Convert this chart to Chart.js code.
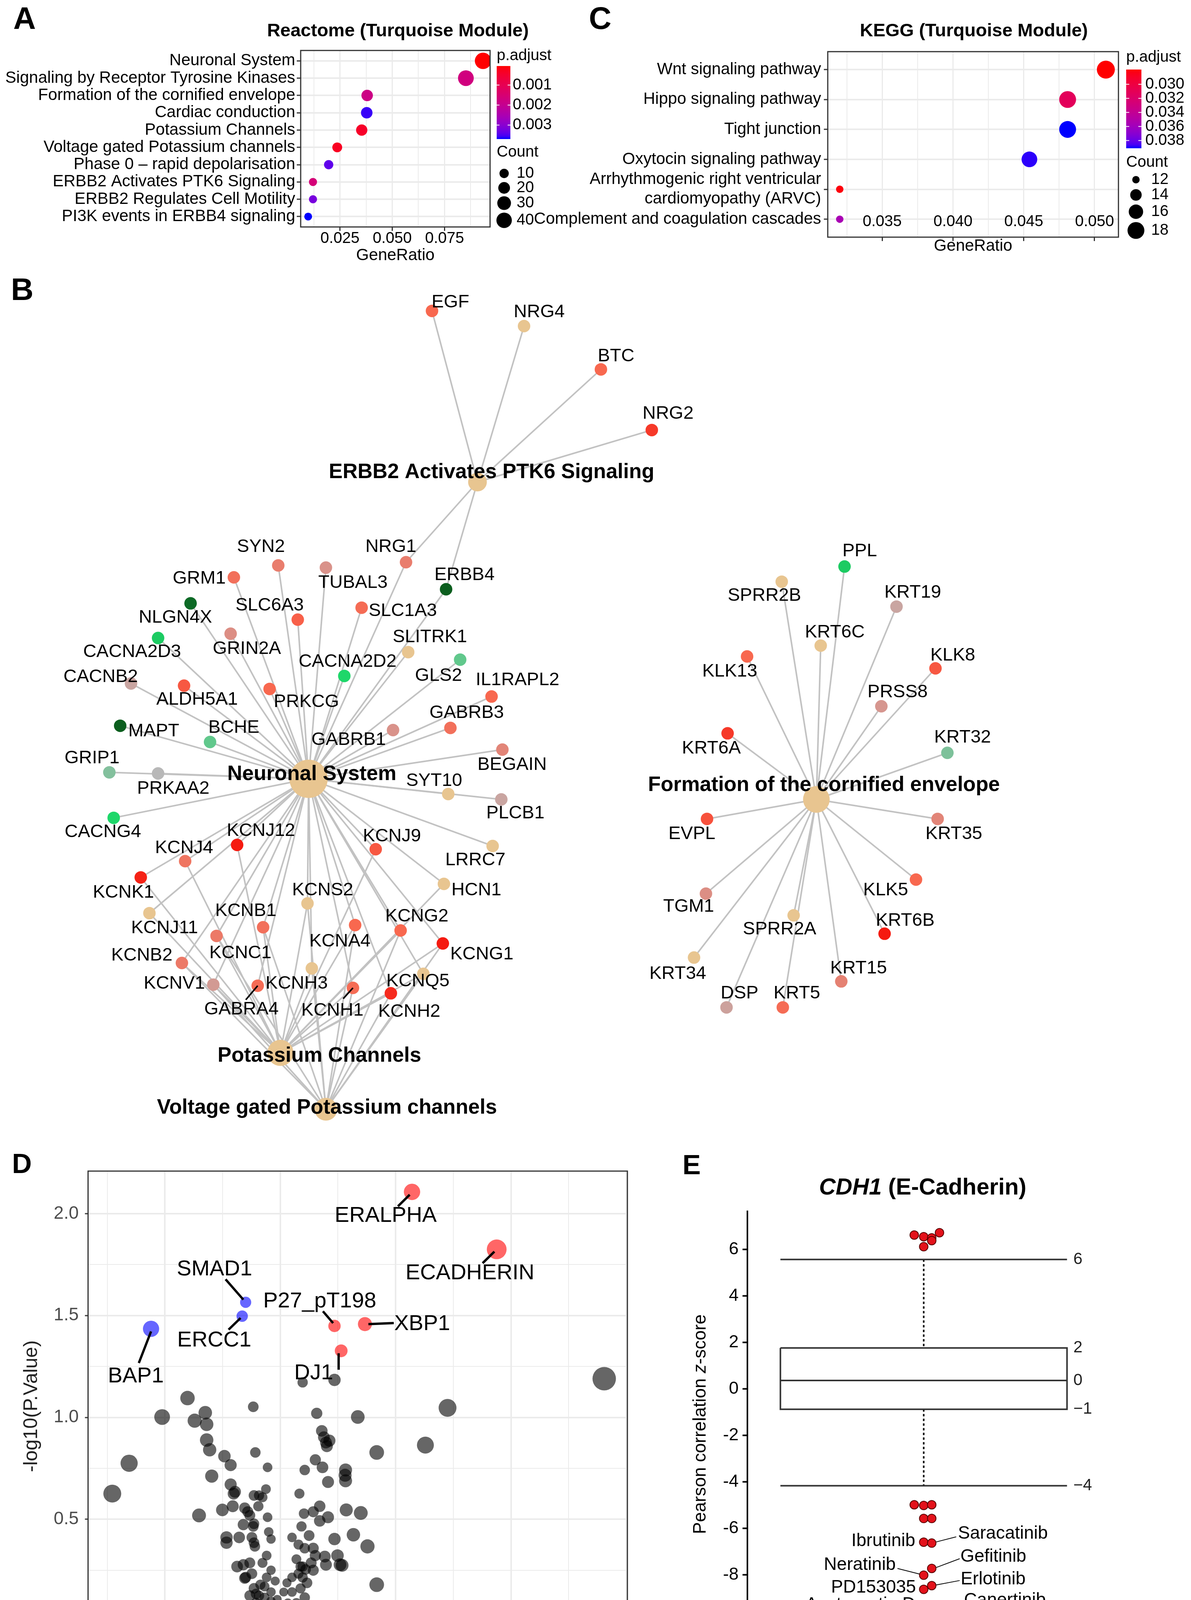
<!DOCTYPE html>
<html lang="en">
<head>
<meta charset="UTF-8">
<title>Turquoise module enrichment and CDH1 screens</title>
<script src="https://cdn.jsdelivr.net/npm/chart.js"></script>
<style>
  html, body { margin: 0; padding: 0; background: #fff; }
  #page { position: relative; width: 3050px; height: 4363px; overflow: hidden; background: #fff;
          font-family: "Liberation Sans", Arial, Helvetica, sans-serif; color: #000; }
  #page canvas { position: absolute; }
  .tag { position: absolute; transform: translate(-50%, -50%); line-height: 1; white-space: nowrap; font-weight: bold; }
</style>
</head>
<body>
<div id="page">
  <canvas id="cA" width="1500" height="600" style="left:0;top:100px"></canvas>
  <canvas id="cC" width="1750" height="600" style="left:1300px;top:100px"></canvas>
  <canvas id="cB" width="3050" height="2220" style="left:0;top:680px"></canvas>
  <canvas id="cD" width="1700" height="1463" style="left:0;top:2900px"></canvas>
  <canvas id="cE" width="1350" height="1463" style="left:1700px;top:2900px"></canvas>

  <div class="tag" style="left:63px;top:47px;font-size:80px">A</div>
  <div class="tag" style="left:1019px;top:76px;font-size:47px">Reactome (Turquoise Module)</div>
  <div class="tag" style="left:1537px;top:47px;font-size:80px">C</div>
  <div class="tag" style="left:2494px;top:76px;font-size:47px">KEGG (Turquoise Module)</div>
  <div class="tag" style="left:57px;top:741px;font-size:80px">B</div>
  <div class="tag" style="left:56px;top:2979px;font-size:70px">D</div>
  <div class="tag" style="left:1771px;top:2982px;font-size:70px">E</div>
  <div class="tag" style="left:2363px;top:3038px;font-size:59px"><i>CDH1</i> (E-Cadherin)</div>
</div>

<script>
const FONT = '"Liberation Sans", Arial, Helvetica, sans-serif';
Chart.defaults.font.family = FONT;
Chart.defaults.color = '#000';
Chart.defaults.layout.autoPadding = false;

// ---------------- A: Reactome dotplot ----------------
const reactTerms = ['Neuronal System', 'Signaling by Receptor Tyrosine Kinases', 'Formation of the cornified envelope',
  'Cardiac conduction', 'Potassium Channels', 'Voltage gated Potassium channels', 'Phase 0 – rapid depolarisation',
  'ERBB2 Activates PTK6 Signaling', 'ERBB2 Regulates Cell Motility', 'PI3K events in ERBB4 signaling'];
const reactRatio = [0.0934, 0.0852, 0.0380, 0.0378, 0.0354, 0.0237, 0.0196, 0.0121, 0.0121, 0.0098];
const reactCount = [46, 42, 19, 19, 18, 12, 10, 6, 6, 5];
const reactPadj = [0.00005, 0.0017, 0.0018, 0.0036, 0.0004, 0.0003, 0.0034, 0.0016, 0.0032, 0.0037];
const reactRatioTicks = [0.025, 0.050, 0.075];
const reactPadjBreaks = [0.001, 0.002, 0.003];
const reactCountBreaks = [10, 20, 30, 40];

// ---------------- C: KEGG dotplot ----------------
const keggTerms = ['Wnt signaling pathway', 'Hippo signaling pathway', 'Tight junction', 'Oxytocin signaling pathway',
  ['Arrhythmogenic right ventricular', 'cardiomyopathy (ARVC)'], 'Complement and coagulation cascades'];
const keggRatio = [0.0508, 0.0481, 0.0481, 0.0454, 0.0320, 0.0320];
const keggCount = [19, 18, 18, 17, 12, 12];
const keggPadj = [0.0279, 0.0312, 0.0391, 0.0389, 0.0281, 0.0356];
const keggRatioTicks = [0.035, 0.040, 0.045, 0.050];
const keggPadjBreaks = [0.030, 0.032, 0.034, 0.036, 0.038];
const keggCountBreaks = [12, 14, 16, 18];

// ---------------- B: gene-concept network (layout coordinates) ----------------
const netHubs = ['ERBB2 Activates PTK6 Signaling', 'Neuronal System', 'Potassium Channels',
  'Voltage gated Potassium channels', 'Formation of the cornified envelope'];
const netHubCount = [6, 46, 18, 12, 19];
const netHubX = [441, 285, 259, 301, 754];
const netHubY = [445, 719, 972, 1024, 738];

const netGenes = ['EGF','NRG4','BTC','NRG2','NRG1','ERBB4',
  'SYN2','GRM1','TUBAL3','NLGN4X','SLC6A3','SLC1A3','GRIN2A','CACNA2D3','SLITRK1','GLS2','CACNA2D2','CACNB2','IL1RAPL2',
  'ALDH5A1','PRKCG','GABRB3','GABRB1','MAPT','BCHE','BEGAIN','GRIP1','PRKAA2','SYT10','PLCB1','CACNG4','LRRC7','GABRA4',
  'KCNJ12','KCNJ9','KCNJ4','KCNK1','HCN1','KCNJ11',
  'KCNS2','KCNB1','KCNA4','KCNG2','KCNC1','KCNG1','KCNB2','KCNH3','KCNV1','KCNH1','KCNQ5','KCNH2',
  'PPL','SPRR2B','KRT19','KRT6C','KLK13','KLK8','PRSS8','KRT6A','KRT32','EVPL','KRT35','KLK5','TGM1','SPRR2A','KRT6B',
  'KRT34','KRT15','DSP','KRT5'];
const netGeneX = [399,484,555,602,375,412,
  257,216,301,176,275,334,213,146,377,425,318,121,454,170,249,416,363,111,194,464,101,146,414,463,105,455,238,
  219,347,171,130,410,138,
  284,243,328,370,200,409,168,288,197,326,391,361,
  780,722,828,758,690,864,814,672,875,653,866,846,652,733,817,641,777,671,723];
const netGeneY = [287,301,341,397,519,544,
  522,533,524,557,572,561,585,589,602,609,624,631,643,633,636,672,674,670,685,692,713,714,733,738,755,781,910,
  780,784,795,810,816,843,
  834,856,854,859,864,871,889,894,909,912,899,917,
  523,537,560,596,606,617,652,677,695,756,756,812,825,845,862,884,906,930,930];
// fold change shown by node colour (null = not measured)
const netGeneFC = [2.0,null,2.0,2.6,1.5,-3,
  1.5,1.8,1.0,-2.9,2.1,1.9,1.1,-2.1,null,-1.3,-2.0,0.5,2.0,2.2,2.0,1.8,1.0,-3,-1.3,1.3,-0.9,0,null,0.5,-2.0,null,1.9,
  3,2.2,1.7,2.9,null,null,
  null,1.8,2.0,2.0,1.6,3,1.6,null,0.8,1.9,null,2.8,
  -2.1,null,0.5,null,2.0,2.2,0.9,2.6,-1.0,2.3,1.3,2.0,1.1,null,3,null,1.4,0.6,1.9];
// pathway membership of each gene (indices into netHubs)
const netGeneHubs = [].concat(Array(4).fill([0]), Array(2).fill([0, 1]), Array(27).fill([1]),
  Array(6).fill([1, 2]), Array(12).fill([1, 2, 3]), Array(19).fill([4]));

// ---------------- D: volcano ----------------
const volHitNames = ['ERALPHA', 'ECADHERIN', 'SMAD1', 'ERCC1', 'BAP1', 'P27_pT198', 'XBP1', 'DJ1'];
const volHitLFC = [0.571, 0.938, -0.150, -0.165, -0.560, 0.235, 0.367, 0.264];
const volHitLogP = [2.107, 1.825, 1.565, 1.497, 1.435, 1.449, 1.458, 1.327];
const volLFC = [1.404,0.725,0.629,0.418,0.418,0.378,0.349,0.336,0.317,0.286,0.283,0.281,0.283,0.259,0.248,0.235,0.207,
  0.235,0.207,0.198,0.213,0.189,0.180,0.202,0.183,0.158,0.152,0.143,0.171,0.152,0.106,0.097,0.083,0.092,0.125,0.106,
  0.143,0.051,0.070,0.097,0.079,0.116,0.088,0.106,0.051,0.033,0.024,0.006,0.015,0.051,0.070,-0.022,0.000,-0.031,
  -0.040,-0.022,-0.040,-0.013,-0.068,-0.086,-0.059,-0.077,-0.059,-0.105,-0.114,-0.123,-0.132,-0.150,-0.114,-0.123,
  -0.110,-0.040,-0.050,-0.055,-0.062,-0.095,-0.077,-0.114,-0.092,-0.114,-0.132,-0.141,-0.117,-0.160,-0.154,-0.206,
  -0.251,-0.352,-0.202,-0.215,-0.196,-0.215,-0.242,-0.297,-0.306,-0.319,-0.319,-0.325,-0.371,-0.402,-0.512,-0.655,
  -0.728,-0.117,-0.108,-0.055,-0.233,-0.233,-0.178,-0.154,-0.132,-0.092,-0.160,-0.187,-0.068,-0.050,-0.105,-0.086,
  -0.040,-0.004,-0.013,0.033,0.042,0.015,0.029,0.088,0.134,0.143,0.097,0.193,0.198,0.268,0.171,0.103,0.079,0.110,
  -0.068,-0.117,-0.086,-0.031,0.011];
const volLogP = [1.190,1.047,0.864,0.828,0.179,0.367,0.531,1.002,0.424,0.546,0.742,0.716,0.689,0.277,0.322,0.403,0.510,
  1.184,0.683,0.877,0.886,0.903,0.934,0.859,0.755,1.020,0.792,0.537,0.492,0.322,0.742,1.172,0.626,0.465,0.420,0.358,
  0.358,0.411,0.304,0.268,0.233,0.188,0.161,0.116,0.143,0.089,0.054,0.018,0.072,0.215,0.089,0.036,0.004,0.072,
  0.143,0.197,0.250,0.107,0.116,0.179,0.215,0.286,0.322,0.089,0.161,0.233,0.286,0.215,0.385,0.411,
  0.367,0.403,0.438,0.510,0.648,0.564,0.608,0.617,0.617,0.478,0.519,0.537,0.465,0.474,0.555,0.564,
  0.546,0.519,0.626,0.671,0.635,0.766,0.810,0.712,0.841,0.889,0.966,1.023,0.984,1.095,1.002,0.775,
  0.626,1.052,0.828,0.755,0.411,0.385,0.411,0.211,0.125,0.125,0.277,0.268,0.054,0.036,0.134,0.072,
  0.098,0.027,0.072,0.036,0.072,0.143,0.188,0.268,0.286,0.250,0.215,0.317,0.277,0.274,0.564,0.528,0.376,0.254,
  0.170,0.036,0.018,0.000,0.054];
const volXTicks = [-0.5, 0.0, 0.5, 1.0, 1.5];
const volYTicks = [0.0, 0.5, 1.0, 1.5, 2.0];

// ---------------- E: CDH1 drug correlation ----------------
const cdh1Box = [-4.17, -0.88, 0.36, 1.76, 5.57]; // lower whisker, Q1, median, Q3, upper whisker
const cdh1TopZ = [6.62, 6.55, 6.50, 6.72, 6.12, 6.38];
const cdh1LowZ = [-4.99, -5.02, -4.99, -5.58, -5.58];
const drugNames = ['Ibrutinib', 'Saracatinib', 'Gefitinib', 'Neratinib', 'Erlotinib', 'PD153035',
  'Austocystin D', 'Canertinib', 'Lapatinib', 'Afatinib'];
const drugZ = [-6.60, -6.64, -7.73, -8.02, -8.47, -8.63, -9.33, -9.33, -9.88, -10.51];
const zTicks = [-10, -8, -6, -4, -2, 0, 2, 4, 6];

// ================= layout / styling =================
const netLabelAt = {
  EGF:[416,279], NRG4:[498,288], BTC:[569,329], NRG2:[617,382], NRG1:[361,505], ERBB4:[429,531],
  SYN2:[241,505], GRM1:[184,534], TUBAL3:[326,538], NLGN4X:[162,570], SLC6A3:[249,559], SLC1A3:[372,564],
  GRIN2A:[228,599], CACNA2D3:[122,602], SLITRK1:[397,588], GLS2:[405,624], CACNA2D2:[321,611], CACNB2:[93,625],
  IL1RAPL2:[478,628], ALDH5A1:[182,646], PRKCG:[283,648], GABRB3:[431,658], GABRB1:[322,683], MAPT:[142,675],
  BCHE:[216,672], BEGAIN:[473,706], GRIP1:[85,700], PRKAA2:[160,728], SYT10:[401,721], PLCB1:[476,751],
  CACNG4:[95,768], LRRC7:[439,794], GABRA4:[223,932],
  KCNJ12:[241,767], KCNJ9:[362,772], KCNJ4:[170,783], KCNK1:[114,824], HCN1:[440,822], KCNJ11:[152,857],
  KCNS2:[298,822], KCNB1:[227,841], KCNA4:[314,869], KCNG2:[385,846], KCNC1:[222,880], KCNG1:[445,881],
  KCNB2:[131,882], KCNH3:[274,908], KCNV1:[161,908], KCNH1:[307,933], KCNQ5:[386,906], KCNH2:[378,934],
  PPL:[794,509], SPRR2B:[706,550], KRT19:[843,547], KRT6C:[771,584], KLK13:[674,620], KLK8:[880,605],
  PRSS8:[829,639], KRT6A:[657,691], KRT32:[889,681], EVPL:[639,770], KRT35:[881,770], KLK5:[818,822],
  TGM1:[636,837], SPRR2A:[720,858], KRT6B:[836,850], KRT34:[626,899], KRT15:[793,894], DSP:[683,917], KRT5:[736,917]
};
const netLeaderTo = { GABRA4: [227, 923], KCNH1: [317, 922] };
const netHubLabelAt = [[454, 436], [288, 715], [295, 975], [302, 1023], [761, 725]];

const volLabelAt = { ERALPHA:[0.457,1.989], ECADHERIN:[0.822,1.708], SMAD1:[-0.285,1.726], ERCC1:[-0.286,1.377],
  BAP1:[-0.626,1.202], P27_pT198:[0.171,1.569], XBP1:[0.615,1.458], DJ1:[0.145,1.216] };
const volLeader = { ERALPHA:[[0.510,2.036],[0.561,2.093]], ECADHERIN:[[0.877,1.757],[0.928,1.814]],
  SMAD1:[[-0.237,1.678],[-0.160,1.578]], ERCC1:[[-0.224,1.431],[-0.172,1.488]], BAP1:[[-0.613,1.267],[-0.560,1.422]],
  P27_pT198:[[0.185,1.521],[0.229,1.463]], XBP1:[[0.382,1.458],[0.492,1.463]], DJ1:[[0.253,1.234],[0.253,1.315]] };

const swarmTop = [-0.066, 0, 0.056, 0.11, 0, 0.056];
const swarmLow = [-0.066, 0, 0.056, 0, 0.056];
const swarmDrug = [0, 0.056, 0.056, 0, 0.056, 0, 0, 0.056, 0, 0];
const drugLabelAt = { Ibrutinib:[-0.059,-6.56,'right'], Saracatinib:[0.239,-6.24,'left'], Gefitinib:[0.256,-7.23,'left'],
  Neratinib:[-0.195,-7.58,'right'], Erlotinib:[0.258,-8.2,'left'], PD153035:[-0.054,-8.56,'right'],
  'Austocystin D':[-0.059,-9.3,'right'], Canertinib:[0.281,-9.11,'left'], Lapatinib:[0.227,-10.2,'left'],
  Afatinib:[-0.054,-10.48,'right'] };
const drugLeader = { Saracatinib:[[0.087,-6.59],[0.227,-6.37]], Neratinib:[[-0.183,-7.73],[-0.03,-7.97]],
  Gefitinib:[[0.087,-7.69],[0.251,-7.31]], Erlotinib:[[0.087,-8.44],[0.251,-8.25]],
  Canertinib:[[0.087,-9.3],[0.274,-9.18]], Lapatinib:[[0.028,-9.98],[0.2,-10.2]] };

// ---- colour helpers ----
function toLin(c) { c /= 255; return c <= 0.04045 ? c / 12.92 : Math.pow((c + 0.055) / 1.055, 2.4); }
function toSrgb(c) { c = c <= 0.0031308 ? 12.92 * c : 1.055 * Math.pow(c, 1 / 2.4) - 0.055; return Math.round(Math.max(0, Math.min(1, c)) * 255); }
function rgb2lab(rgb) {
  const r = toLin(rgb[0]), g = toLin(rgb[1]), b = toLin(rgb[2]);
  const X = (0.4124 * r + 0.3576 * g + 0.1805 * b) / 0.95047, Y = 0.2126 * r + 0.7152 * g + 0.0722 * b,
        Z = (0.0193 * r + 0.1192 * g + 0.9505 * b) / 1.08883;
  const f = t => t > 0.008856 ? Math.cbrt(t) : 7.787 * t + 16 / 116;
  return [116 * f(Y) - 16, 500 * (f(X) - f(Y)), 200 * (f(Y) - f(Z))];
}
function lab2css(L) {
  const fy = (L[0] + 16) / 116, fx = fy + L[1] / 500, fz = fy - L[2] / 200;
  const inv = t => t * t * t > 0.008856 ? t * t * t : (t - 16 / 116) / 7.787;
  const X = inv(fx) * 0.95047, Y = inv(fy), Z = inv(fz) * 1.08883;
  const r = 3.2406 * X - 1.5372 * Y - 0.4986 * Z, g = -0.9689 * X + 1.8758 * Y + 0.0415 * Z, b = 0.0557 * X - 0.2040 * Y + 1.0570 * Z;
  return 'rgb(' + toSrgb(r) + ',' + toSrgb(g) + ',' + toSrgb(b) + ')';
}
const LAB_RED = rgb2lab([255, 0, 0]), LAB_BLUE = rgb2lab([0, 0, 255]);
function redBlue(t) { t = Math.max(0, Math.min(1, t)); return lab2css(LAB_RED.map((v, i) => v + t * (LAB_BLUE[i] - v))); }

const TAN = '#E8C590';
const fcStops = [[-3, [11, 94, 30]], [-2, [30, 215, 106]], [-1, [125, 193, 154]], [0, [184, 184, 184]],
                 [1, [217, 146, 138]], [2, [248, 104, 79]], [3, [245, 26, 16]]];
function fcColor(v) {
  if (v === null) return TAN;
  v = Math.max(-3, Math.min(3, v));
  for (let i = 0; i < fcStops.length - 1; i++) {
    const a = fcStops[i], b = fcStops[i + 1];
    if (v <= b[0]) {
      const t = (v - a[0]) / (b[0] - a[0]);
      return 'rgb(' + a[1].map((c, k) => Math.round(c + t * (b[1][k] - c))).join(',') + ')';
    }
  }
}

function gridValues(major, lo, hi) {
  const h = (major[1] - major[0]) / 2, out = [];
  let v = major[0];
  while (v - h >= lo - 1e-12) v -= h;
  for (; v <= hi + 1e-12; v += h) out.push(+v.toFixed(10));
  return out;
}
const isIn = (v, arr) => arr.some(m => Math.abs(m - v) < 1e-9);

const base = { responsive: false, devicePixelRatio: 1, animation: false, events: [] };

// ================= A & C dotplots =================
function makeDotplot(id, origin, terms, ratio, count, padj, majors, pBreaks, cBreaks, L) {
  const n = terms.length;
  const pLo = Math.min(...padj), pHi = Math.max(...padj);
  const cLo = Math.min(...count), cHi = Math.max(...count);
  const rad = c => Math.sqrt(L.rMin * L.rMin + (c - cLo) / (cHi - cLo) * (L.rMax * L.rMax - L.rMin * L.rMin));
  const gx = gridValues(majors, L.xMin, L.xMax);
  const X = v => v - origin[0], Y = v => v - origin[1];
  const G = L.legend;

  const extras = {
    id: 'dotExtras',
    afterDraw(chart) {
      const c = chart.ctx, a = chart.chartArea;
      c.save();
      c.strokeStyle = '#333'; c.lineWidth = 3;
      c.strokeRect(a.left, a.top, a.right - a.left, a.bottom - a.top);
      c.font = '40px ' + FONT; c.fillStyle = '#000'; c.textBaseline = 'middle';
      if (L.insideTickY) {
        c.textAlign = 'center';
        majors.forEach(v => c.fillText(v.toFixed(3), chart.scales.x.getPixelForValue(v), Y(L.insideTickY)));
      }
      // p.adjust colourbar
      c.textAlign = 'left';
      c.fillText('p.adjust', X(G.x), Y(G.titleY));
      const grad = c.createLinearGradient(0, Y(G.barTop), 0, Y(G.barBottom));
      for (let i = 0; i <= 24; i++) grad.addColorStop(i / 24, redBlue(i / 24));
      c.fillStyle = grad;
      c.fillRect(X(G.x), Y(G.barTop), G.barW, G.barBottom - G.barTop);
      pBreaks.forEach(b => {
        const yy = Y(G.barTop + (b - pLo) / (pHi - pLo) * (G.barBottom - G.barTop));
        c.strokeStyle = '#fff'; c.lineWidth = 2;
        c.beginPath();
        c.moveTo(X(G.x), yy); c.lineTo(X(G.x) + G.barW * 0.2, yy);
        c.moveTo(X(G.x) + G.barW * 0.8, yy); c.lineTo(X(G.x) + G.barW, yy);
        c.stroke();
        c.fillStyle = '#000';
        c.fillText(b.toFixed(3), X(G.x + G.barW + G.gap), yy);
      });
      // Count legend
      c.fillText('Count', X(G.x), Y(G.countY));
      cBreaks.forEach((b, i) => {
        c.beginPath(); c.arc(X(G.dotX), Y(G.dotY[i]), rad(b), 0, 2 * Math.PI); c.fill();
        c.fillText(String(b), X(G.labX), Y(G.dotY[i]));
      });
      c.restore();
    }
  };

  return new Chart(document.getElementById(id), {
    type: 'scatter',
    data: { datasets: [{
      data: ratio.map((r, i) => ({ x: r, y: i })),
      pointRadius: count.map(rad),
      pointBackgroundColor: padj.map(p => redBlue((p - pLo) / (pHi - pLo))),
      pointBorderWidth: 0
    }] },
    options: Object.assign({}, base, {
      layout: { padding: L.pad, autoPadding: false },
      plugins: { legend: { display: false }, tooltip: { enabled: false } },
      scales: {
        x: {
          type: 'linear', min: L.xMin, max: L.xMax,
          afterFit: s => { s.height = L.xAxisH; },
          afterBuildTicks: s => { s.ticks = gx.map(v => ({ value: v })); },
          border: { display: false },
          grid: {
            color: '#EBEBEB',
            lineWidth: ctx => isIn(ctx.tick.value, majors) ? 3 : 2,
            tickColor: ctx => isIn(ctx.tick.value, majors) ? '#333' : 'rgba(0,0,0,0)',
            tickLength: 10, tickWidth: 3
          },
          ticks: {
            autoSkip: false, maxRotation: 0, padding: -4, color: '#000', font: { size: 40 },
            callback: v => (L.insideTickY || !isIn(v, majors)) ? '' : v.toFixed(3)
          },
          title: { display: true, text: 'GeneRatio', color: '#000', font: { size: 42 }, padding: { top: 0, bottom: L.titlePad } }
        },
        y: {
          type: 'linear', min: -0.6, max: n - 0.4, reverse: true,
          afterFit: s => { s.width = L.yAxisW; },
          afterBuildTicks: s => { s.ticks = terms.map((t, i) => ({ value: i })); },
          border: { display: false },
          grid: { color: '#EBEBEB', lineWidth: 4, tickColor: '#333', tickLength: 10, tickWidth: 3 },
          ticks: { autoSkip: false, padding: L.yPad, color: '#000', font: { size: 42 }, callback: v => terms[v] }
        }
      }
    }),
    plugins: [extras]
  });
}

makeDotplot('cA', [0, 100], reactTerms, reactRatio, reactCount, reactPadj, reactRatioTicks, reactPadjBreaks, reactCountBreaks, {
  xMin: 0.00622, xMax: 0.09676, yAxisW: 770, xAxisH: 119, pad: { left: 0, top: 25.8, right: 245, bottom: 0 },
  titlePad: 20, yPad: 4, rMin: 10, rMax: 21,
  legend: { x: 1272, titleY: 143, barTop: 169, barBottom: 356, barW: 35, gap: 6, countY: 390,
            dotX: 1291, dotY: [444, 481, 520, 564], labX: 1323 }
});

makeDotplot('cC', [1300, 100], keggTerms, keggRatio, keggCount, keggPadj, keggRatioTicks, keggPadjBreaks, keggCountBreaks, {
  xMin: 0.031154, xMax: 0.05169, yAxisW: 819.8, xAxisH: 92.9, pad: { left: 0, top: 21.4, right: 185.8, bottom: 0 },
  titlePad: 44, yPad: 7, rMin: 9.5, rMax: 23, insideTickY: 568,
  legend: { x: 2884, titleY: 147, barTop: 178, barBottom: 379.5, barW: 39, gap: 10, countY: 416,
            dotX: 2909, dotY: [460, 499, 542, 590], labX: 2948 }
});

// ================= B network =================
(function () {
  const hubRadius = c => Math.sqrt(302 + 45.6 * c);
  const datasets = [
    { data: netGenes.map((g, i) => ({ x: netGeneX[i], y: netGeneY[i] })), pointRadius: 16,
      pointBackgroundColor: netGeneFC.map(fcColor), pointBorderWidth: 0, order: 1 },
    { data: netHubs.map((h, i) => ({ x: netHubX[i], y: netHubY[i] })), pointRadius: netHubCount.map(hubRadius),
      pointBackgroundColor: TAN, pointBorderWidth: 0, order: 2 }
  ];
  netGenes.forEach((g, i) => netGeneHubs[i].forEach(h => datasets.push({
    data: [{ x: netHubX[h], y: netHubY[h] }, { x: netGeneX[i], y: netGeneY[i] }],
    showLine: true, pointRadius: 0, borderColor: '#C2C2C2', borderWidth: 4, order: 3
  })));

  const labels = {
    id: 'netLabels',
    afterDatasetsDraw(chart) {
      const c = chart.ctx, sx = chart.scales.x, sy = chart.scales.y;
      const P = (x, y) => [sx.getPixelForValue(x), sy.getPixelForValue(y)];
      c.save();
      c.strokeStyle = '#000'; c.lineWidth = 4;
      Object.keys(netLeaderTo).forEach(g => {
        const i = netGenes.indexOf(g), a = P(netGeneX[i], netGeneY[i]), b = P(netLeaderTo[g][0], netLeaderTo[g][1]);
        c.beginPath(); c.moveTo(a[0], a[1]); c.lineTo(b[0], b[1]); c.stroke();
      });
      c.fillStyle = '#000'; c.textAlign = 'center'; c.textBaseline = 'middle';
      c.font = '47px ' + FONT;
      netGenes.forEach(g => { const p = P(netLabelAt[g][0], netLabelAt[g][1]); c.fillText(g, p[0], p[1]); });
      c.font = 'bold 53px ' + FONT;
      netHubs.forEach((h, i) => { const p = P(netHubLabelAt[i][0], netHubLabelAt[i][1]); c.fillText(h, p[0], p[1]); });
      c.restore();
    }
  };

  new Chart(document.getElementById('cB'), {
    type: 'scatter',
    data: { datasets },
    options: Object.assign({}, base, {
      layout: { padding: 0, autoPadding: false },
      plugins: { legend: { display: false }, tooltip: { enabled: false } },
      scales: {
        x: { type: 'linear', min: 0, max: 1100, display: false },
        y: { type: 'linear', min: 245.2, max: 1045.8, reverse: true, display: false }
      }
    }),
    plugins: [labels]
  });
})();

// ================= D volcano =================
(function () {
  const xMin = -0.833, xMax = 1.5045, yMin = -0.0986, yMax = 2.209;
  const gx = gridValues(volXTicks, xMin, xMax), gy = gridValues(volYTicks, yMin, yMax);
  const rad = v => Math.sqrt(121 + 555 * Math.abs(v));
  const extras = {
    id: 'volExtras',
    afterDatasetsDraw(chart) {
      const c = chart.ctx, sx = chart.scales.x, sy = chart.scales.y;
      c.save();
      c.strokeStyle = '#000'; c.lineWidth = 6;
      volHitNames.forEach(n => {
        const s = volLeader[n];
        c.beginPath(); c.moveTo(sx.getPixelForValue(s[0][0]), sy.getPixelForValue(s[0][1]));
        c.lineTo(sx.getPixelForValue(s[1][0]), sy.getPixelForValue(s[1][1])); c.stroke();
      });
      c.fillStyle = '#000'; c.font = '56px ' + FONT; c.textAlign = 'center'; c.textBaseline = 'middle';
      volHitNames.forEach(n => c.fillText(n, sx.getPixelForValue(volLabelAt[n][0]), sy.getPixelForValue(volLabelAt[n][1])));
      c.restore();
    },
    afterDraw(chart) {
      const c = chart.ctx, a = chart.chartArea;
      c.save(); c.strokeStyle = '#333'; c.lineWidth = 3;
      c.strokeRect(a.left, a.top, a.right - a.left, a.bottom - a.top); c.restore();
    }
  };
  const gridOpts = majors => ({
    color: '#EBEBEB',
    lineWidth: ctx => isIn(ctx.tick.value, majors) ? 4 : 2,
    tickColor: ctx => isIn(ctx.tick.value, majors) ? '#333' : 'rgba(0,0,0,0)',
    tickLength: 8, tickWidth: 3
  });
  new Chart(document.getElementById('cD'), {
    type: 'scatter',
    data: { datasets: [
      { data: volHitLFC.map((v, i) => ({ x: v, y: volHitLogP[i] })), pointRadius: volHitLFC.map(rad),
        pointBackgroundColor: volHitLFC.map(v => v > 0 ? 'rgba(255,0,0,0.6)' : 'rgba(0,0,255,0.6)'), pointBorderWidth: 0, order: 1 },
      { data: volLFC.map((v, i) => ({ x: v, y: volLogP[i] })), pointRadius: volLFC.map(rad),
        pointBackgroundColor: 'rgba(0,0,0,0.6)', pointBorderWidth: 0, order: 2 }
    ] },
    options: Object.assign({}, base, {
      layout: { padding: { left: 0, top: 98, right: 93.3, bottom: 0 }, autoPadding: false },
      plugins: { legend: { display: false }, tooltip: { enabled: false } },
      scales: {
        x: {
          type: 'linear', min: xMin, max: xMax,
          afterFit: s => { s.height = 161.4; },
          afterBuildTicks: s => { s.ticks = gx.map(v => ({ value: v })); },
          border: { display: false }, grid: gridOpts(volXTicks),
          ticks: { autoSkip: false, maxRotation: 0, padding: 4, color: '#4D4D4D', font: { size: 46 },
                   callback: v => isIn(v, volXTicks) ? v.toFixed(1) : '' },
          title: { display: true, text: 'LogFoldChange', color: '#222', font: { size: 50 }, padding: { top: 0, bottom: 18 } }
        },
        y: {
          type: 'linear', min: yMin, max: yMax,
          afterFit: s => { s.width = 225.5; },
          afterBuildTicks: s => { s.ticks = gy.map(v => ({ value: v })); },
          border: { display: false }, grid: gridOpts(volYTicks),
          ticks: { autoSkip: false, padding: 16, color: '#4D4D4D', font: { size: 46 },
                   callback: v => isIn(v, volYTicks) ? v.toFixed(1) : '' },
          title: { display: true, text: '-log10(P.Value)', color: '#222', font: { size: 50 }, padding: { top: 51, bottom: 0 } }
        }
      }
    }),
    plugins: [extras]
  });
})();

// ================= E CDH1 box =================
(function () {
  const [lo, q1, med, q3, hi] = cdh1Box;
  const seg = (pts, dash) => ({ data: pts.map(p => ({ x: p[0], y: p[1] })), showLine: true, pointRadius: 0,
    borderColor: dash ? '#000' : '#333', borderWidth: 4, borderDash: dash || [], order: 2 });
  const pts = [].concat(
    cdh1TopZ.map((z, i) => ({ x: swarmTop[i], y: z })),
    cdh1LowZ.map((z, i) => ({ x: swarmLow[i], y: z })),
    drugZ.map((z, i) => ({ x: swarmDrug[i], y: z })));
  const extras = {
    id: 'boxExtras',
    afterDraw(chart) {
      const c = chart.ctx, sx = chart.scales.x, sy = chart.scales.y;
      const P = (x, y) => [sx.getPixelForValue(x), sy.getPixelForValue(y)];
      c.save();
      // rounded values written beside box lines
      c.font = '42px ' + FONT; c.fillStyle = '#222'; c.textAlign = 'left'; c.textBaseline = 'middle';
      cdh1Box.forEach(v => { const p = P(1.044, v); c.fillText(String(Math.round(v)).replace('-', '−'), p[0], p[1]); });
      // drug leaders and names
      c.strokeStyle = '#000'; c.lineWidth = 2;
      Object.keys(drugLeader).forEach(n => {
        const a = P(drugLeader[n][0][0], drugLeader[n][0][1]), b = P(drugLeader[n][1][0], drugLeader[n][1][1]);
        c.beginPath(); c.moveTo(a[0], a[1]); c.lineTo(b[0], b[1]); c.stroke();
      });
      c.font = '46px ' + FONT; c.fillStyle = '#000';
      drugNames.forEach(n => {
        const s = drugLabelAt[n], p = P(s[0], s[1]);
        c.textAlign = s[2]; c.fillText(n, p[0], p[1]);
      });
      // y axis title with italic z
      c.translate(94.7, 746); c.rotate(-Math.PI / 2);
      const parts = [['Pearson correlation ', ''], ['z', 'italic '], ['-score', '']];
      let w = 0;
      parts.forEach(p => { c.font = p[1] + '46px ' + FONT; w += c.measureText(p[0]).width; });
      let xx = -w / 2; c.textAlign = 'left';
      parts.forEach(p => { c.font = p[1] + '46px ' + FONT; c.fillText(p[0], xx, 0); xx += c.measureText(p[0]).width; });
      c.restore();
    }
  };
  new Chart(document.getElementById('cE'), {
    type: 'scatter',
    data: { datasets: [
      { data: pts, pointRadius: 11, pointBackgroundColor: '#E3121B', pointBorderColor: '#5A0000', pointBorderWidth: 2, order: 1 },
      seg([[-1, q3], [1, q3], [1, q1], [-1, q1], [-1, q3]]),
      seg([[-1, med], [1, med]]),
      seg([[-1, hi], [1, hi]]),
      seg([[-1, lo], [1, lo]]),
      seg([[0, hi], [0, q3]], [6, 6]),
      seg([[0, q1], [0, lo]], [6, 6])
    ] },
    options: Object.assign({}, base, {
      layout: { padding: { left: 0, top: 200.6, right: 232.5, bottom: 138.1 }, autoPadding: false },
      plugins: { legend: { display: false }, tooltip: { enabled: false } },
      scales: {
        x: { type: 'linear', min: -1.2316, max: 1.2316, display: false },
        y: {
          type: 'linear', min: -11.256, max: 7.648,
          afterFit: s => { s.width = 213.5; },
          afterBuildTicks: s => { s.ticks = zTicks.map(v => ({ value: v })); },
          border: { display: true, color: '#000', width: 4 },
          grid: { drawOnChartArea: false, drawTicks: true, tickLength: 12, tickWidth: 4, tickColor: '#000' },
          ticks: { autoSkip: false, padding: 10, color: '#000', font: { size: 45 }, callback: v => String(v) }
        }
      }
    }),
    plugins: [extras]
  });
})();
</script>
</body>
</html>
